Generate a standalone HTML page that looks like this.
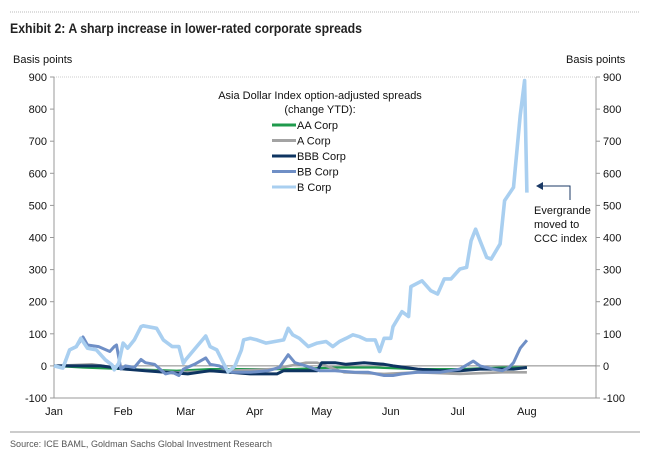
<!DOCTYPE html>
<html><head><meta charset="utf-8"><style>
body{margin:0;background:#fff;width:654px;height:458px;overflow:hidden;font-family:"Liberation Sans",sans-serif;}
svg{display:block}
</style></head><body>
<svg id="chart" width="654" height="458">
  <line x1="10" y1="12" x2="640" y2="12" stroke="#bbb" stroke-dasharray="1,1"/>
  <text x="10" y="33" font-size="13.5" font-weight="bold" fill="#222" textLength="352" lengthAdjust="spacingAndGlyphs">Exhibit 2: A sharp increase in lower-rated corporate spreads</text>
  <text x="13" y="63" font-size="11" fill="#111">Basis points</text>
  <text x="566" y="63" font-size="11" fill="#111">Basis points</text>
  <g id="axes"></g>
  <g id="series"></g>
  <g>
    <text x="320" y="99" font-size="11" text-anchor="middle" fill="#111">Asia Dollar Index option-adjusted spreads</text>
    <text x="320" y="113" font-size="11" text-anchor="middle" fill="#111">(change YTD):</text>
    <g id="legend-items"></g>
  </g>
  <g>
    <polyline points="541,186 570,186 570,200" fill="none" stroke="#1b3a66" stroke-width="1"/>
    <polygon points="536,186 543,182 543,190" fill="#1b3a66"/>
    <text x="534" y="214" font-size="11" fill="#111">Evergrande</text>
    <text x="534" y="228" font-size="11" fill="#111">moved to</text>
    <text x="534" y="242" font-size="11" fill="#111">CCC index</text>
  </g>
  <line x1="10" y1="432" x2="640" y2="432" stroke="#999"/>
  <text x="10" y="447" font-size="9.5" fill="#555" textLength="262" lengthAdjust="spacingAndGlyphs">Source: ICE BAML, Goldman Sachs Global Investment Research</text>
</svg>
<script>
const yTicks = [900,800,700,600,500,400,300,200,100,0,-100];
const monthLabels = ["Jan","Feb","Mar","Apr","May","Jun","Jul","Aug"];
const monthDays = [0,31,59,90,120,151,181,212];
const seriesNames = ["AA Corp","A Corp","BBB Corp","BB Corp","B Corp"];
const aaDays = [0,13,32,55,70,107,126,144,163,182,201,212];
const aaVals = [0,-5,-10,-15,-10,-10,-5,-5,-10,-10,-5,-5];
const aDays = [0,17,32,55,79,98,113,118,130,148,163,182,201,212];
const aVals = [0,5,-10,-20,-15,-10,10,10,-20,-25,-20,-25,-20,-20];
const bbbDays = [0,21,32,41,50,60,70,79,88,100,103,118,120,126,131,139,148,152,163,173,182,191,201,206,212];
const bbbVals = [0,0,-10,-15,-20,-25,-15,-20,-25,-25,-15,-15,10,10,5,10,5,0,-10,-15,-15,-10,-10,-10,-5];
const bbDays = [0,4,7,10,13,15,20,25,27,28,30,32,36,39,41,45,50,53,56,58,63,68,70,74,80,88,96,101,105,108,113,119,126,135,141,148,152,156,163,173,182,188,191,197,201,204,206,209,212];
const bbVals = [0,-5,50,60,90,65,60,45,60,65,-10,0,-5,20,10,5,-25,-20,-30,-10,5,25,5,0,-20,-20,-15,-5,35,10,0,-15,-15,-20,-20,-30,-30,-25,-20,-20,-10,15,0,-10,-15,-5,10,55,80];
const bDays = [0,4,7,10,12,15,19,23,26,27,29,31,33,36,39,40,46,49,53,56,58,59,64,68,70,73,76,78,81,84,85,88,91,95,99,103,105,107,110,114,118,122,125,128,131,134,137,140,144,146,148,151,152,156,159,160,165,169,172,175,178,182,185,187,189,191,194,196,200,202,206,209,211,212];
const bVals = [0,-7,50,60,86,55,50,19,3,-12,8,71,55,81,122,125,117,81,60,60,8,19,60,93,60,50,8,-18,-2,50,81,86,81,71,76,81,117,97,86,60,71,76,60,76,86,97,91,81,81,45,86,86,122,169,154,247,265,234,224,271,271,302,307,390,426,390,338,333,380,515,556,780,889,540];
const seriesDays = [aaDays,aDays,bbbDays,bbDays,bDays];
const seriesVals = [aaVals,aVals,bbbVals,bbVals,bVals];
const colors = ["#1f9a4c","#a3a3a3","#0e3461","#6f8fc6","#a9cff0"];
const widths = [2.2,2.6,3,3,3.6];

const NS="http://www.w3.org/2000/svg";
const X0=54, X1=596, Y0=77, Y1=398, DMAX=243;
const xs = d => X0 + d*(X1-X0)/DMAX;
const ys = v => Y0 + (900-v)*(Y1-Y0)/1000;
function mk(tag, attrs, parent){const e=document.createElementNS(NS,tag);for(const k in attrs)e.setAttribute(k,attrs[k]);parent.appendChild(e);return e;}
const axes=document.getElementById("axes");
const fr=mk("line",{x1:X0,y1:Y0,x2:X1,y2:Y0,stroke:"#ccc","stroke-dasharray":"1,1"},axes);


const la=mk("line",{x1:X0,y1:Y0,x2:X0,y2:Y1,stroke:"#999"},axes);


const ra=mk("line",{x1:X1,y1:Y0,x2:X1,y2:Y1,stroke:"#999"},axes);


const ba=mk("line",{x1:X0,y1:Y1,x2:X1,y2:Y1,stroke:"#999"},axes);


const zl=mk("line",{x1:X0,y1:ys(0),x2:X1,y2:ys(0),stroke:"#888"},axes);


yTicks.forEach(v=>{
  const y=ys(v);
  mk("line",{x1:X0-4,y1:y,x2:X0,y2:y,stroke:"#999"},axes);
  mk("line",{x1:X1,y1:y,x2:X1+4,y2:y,stroke:"#999"},axes);
  const t=mk("text",{x:X0-7,y:y+4,"font-size":11,"text-anchor":"end",fill:"#111"},axes);
  t.textContent=v;
  
  
  const t2=mk("text",{x:X1+7,y:y+4,"font-size":11,fill:"#111"},axes);
  t2.textContent=v;
  
  
});
monthLabels.forEach((m,i)=>{
  const t=mk("text",{x:xs(monthDays[i]),y:415,"font-size":11,"text-anchor":"middle",fill:"#111"},axes);
  t.textContent=m;
  
  
});
const sg=document.getElementById("series");
seriesNames.forEach((n,i)=>{
  const pts=seriesDays[i].map((d,j)=>xs(d).toFixed(1)+","+ys(seriesVals[i][j]).toFixed(1)).join(" ");
  const p=mk("polyline",{points:pts,fill:"none",stroke:colors[i],"stroke-width":widths[i],"stroke-linejoin":"round"},sg);
  
  
});
const lg=document.getElementById("legend-items");
seriesNames.forEach((n,i)=>{
  const y=129+i*15.5;
  const l=mk("line",{x1:272,y1:y-4,x2:296,y2:y-4,stroke:colors[i],"stroke-width":3},lg);
  
  
  const t=mk("text",{x:297,y:y,"font-size":11,fill:"#111"},lg);
  t.textContent=n;
  
  
});
</script>
</body></html>
